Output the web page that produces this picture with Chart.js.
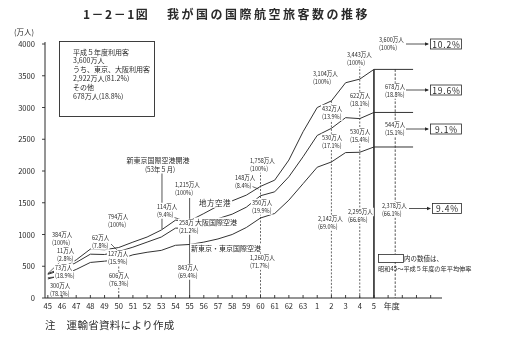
<!DOCTYPE html>
<html>
<head>
<meta charset="utf-8">
<script src="https://cdn.jsdelivr.net/npm/chart.js@4.4.0/dist/chart.umd.min.js"></script>
<style>
  html, body { margin: 0; padding: 0; background: #fff; }
</style>
</head>
<body>
<canvas id="myChart" width="512" height="344"></canvas>
<script>
// 年度 (昭和45〜63, 平成1〜5)
const years = ['45','46','47','48','49','50','51','52','53','54','55','56','57','58','59','60','61','62','63','1','2','3','4','5'];
// 万人
const tokyo = [300,360,450,560,580,606,680,720,750,830,843,880,930,1000,1110,1260,1331,1541,1800,2060,2142,2290,2295,2378];
const osaka = [73,85,110,130,105,127,120,160,210,270,258,290,320,320,320,350,341,368,424,500,530,550,530,544];
const local = [11,25,40,80,75,62,80,80,110,125,114,160,200,210,190,148,184,263,394,440,432,550,622,678];

// labelled years
const keyYears = ['45','50','55','60','2','4','5'];
const keyTotal = [384,794,1215,1758,3104,3443,3600];
const keyTokyo = [300,606,843,1260,2142,2295,2378];
const keyOsaka = [73,127,258,350,530,530,544];
const keyLocal = [11,62,114,148,432,622,678];
const shareTokyo = [78.1,76.3,69.4,71.7,69.0,66.6,66.1];
const shareOsaka = [18.9,15.9,21.2,19.9,17.1,15.4,15.1];
const shareLocal = [2.8,7.8,9.4,8.4,13.9,18.1,18.8];
// 昭和45〜平成5年度の年平均伸率: total, local, osaka, tokyo
const growthRates = ['10.2%','19.6%','9.1%','9.4%'];
const yTicks = [0,500,1000,1500,2000,2500,3000,3500,4000];

const seriesNames = ['新東京・東京国際空港','大阪国際空港','地方空港'];

// layout only
const lineEnd = 25.76;          // lines run on past 5年度
const totalPos = [[52,235],[108,217],[175,185],[250,161],[313,74],[347,55],[379,40]];
const localPos = [[57,251],[92,238],[157,207],[235,178],[322,109],[350,96],[385,87]];
const osakaPos = [[55,268],[108,254],[179,223],[252,203],[322,138],[350,132],[385,125]];
const tokyoPos = [[50,286],[109,276],[178,268],[250,258],[318,219],[348,212],[382,206]];
const boxY = [44,90,129,208.5];

const FONT = '"Noto Sans CJK JP", "Noto Sans", sans-serif';
const INK = '#2a2a2a';

function toPoints(vals) {
  const pts = vals.map((v, i) => ({ x: i, y: v }));
  pts.push({ x: lineEnd, y: vals[vals.length - 1] });
  return pts;
}

function drawText(ctx, s, x, y, o) {
  o = o || {};
  const size = o.size || 7;
  ctx.save();
  ctx.font = (o.weight || 'normal') + ' ' + size + 'px ' + FONT;
  ctx.letterSpacing = (o.spacing || 0) + 'px';
  ctx.textBaseline = 'middle';
  ctx.textAlign = 'left';
  const sx = o.sx || 1;
  const w = ctx.measureText(s).width * sx;
  let x0 = x;
  if (o.align === 'center') x0 = x - w / 2;
  if (o.align === 'right') x0 = x - w;
  if (o.bg) {
    ctx.fillStyle = '#fff';
    ctx.fillRect(x0 - 1, y - size / 2 - 1, w + 2, size + 2);
  }
  ctx.fillStyle = o.color || INK;
  ctx.translate(x0, y);
  ctx.scale(sx, 1);
  ctx.fillText(s, 0, 0);
  ctx.restore();
  return w;
}

function fmt(v) {
  return v.toLocaleString('en-US') + '万人';
}

function dataLabel(ctx, pos, value, share) {
  drawText(ctx, fmt(value), pos[0], pos[1], { size: 6.5, sx: 0.85, bg: true });
  drawText(ctx, '(' + share + '%)', pos[0], pos[1] + 7.5, { size: 6.5, sx: 0.85, bg: true });
}

function line(ctx, x1, y1, x2, y2, w, dash) {
  ctx.save();
  ctx.strokeStyle = INK;
  ctx.lineWidth = w || 0.8;
  ctx.setLineDash(dash || []);
  ctx.beginPath();
  ctx.moveTo(x1, y1);
  ctx.lineTo(x2, y2);
  ctx.stroke();
  ctx.restore();
}

function arrow(ctx, x1, x2, y) {
  line(ctx, x1, y, x2, y, 0.8);
  ctx.save();
  ctx.fillStyle = INK;
  ctx.beginPath();
  ctx.moveTo(x2 + 1, y);
  ctx.lineTo(x2 - 3, y - 1.8);
  ctx.lineTo(x2 - 3, y + 1.8);
  ctx.closePath();
  ctx.fill();
  ctx.restore();
}

const decor = {
  id: 'decor',
  afterDatasetsDraw(chart) {
    const ctx = chart.ctx;
    const xs = chart.scales.x, ys = chart.scales.y;
    const area = chart.chartArea;
    const px = i => xs.getPixelForValue(i);
    const py = v => ys.getPixelForValue(v);
    const idx = y => years.indexOf(y);
    const top = i => tokyo[i] + osaka[i] + local[i];
    const base = area.bottom;

    // vertical guide lines
    line(ctx, px(idx('50')), py(tokyo[idx('50')]), px(idx('50')), base, 0.7, [2, 1.5]);
    line(ctx, px(idx('55')), 198, px(idx('55')), base, 0.8);
    line(ctx, px(8.05), 173, px(8.05), py(1085), 0.8);
    line(ctx, px(idx('60')), 168, px(idx('60')), base, 0.7, [2, 1.5]);
    line(ctx, px(idx('2')), py(top(idx('2'))), px(idx('2')), base, 0.7, [2, 1.5]);
    line(ctx, px(idx('4')), 62, px(idx('4')), base, 0.7, [2, 1.5]);
    line(ctx, px(idx('5')), py(top(idx('5'))), px(idx('5')), base, 1.6);
    line(ctx, px(24.5), py(top(idx('5'))), px(24.5), base, 0.8, [2.5, 1.5]);

    // leaders
    line(ctx, px(0), py(keyTotal[0]), 60, 262, 0.7);
    line(ctx, px(0), py(keyTotal[0]) + 4, 56, 277, 0.7);
    line(ctx, 111, 244, 118, 251, 0.7);
    line(ctx, 246, 184, px(idx('60')) - 2, 189, 0.7);
    line(ctx, 170, 216, px(idx('55')) - 2, 222, 0.7);

    // value labels
    keyYears.forEach((y, k) => {
      dataLabel(ctx, totalPos[k], keyTotal[k], 100);
      dataLabel(ctx, localPos[k], keyLocal[k], shareLocal[k].toFixed(1));
      dataLabel(ctx, osakaPos[k], keyOsaka[k], shareOsaka[k].toFixed(1));
      dataLabel(ctx, tokyoPos[k], keyTokyo[k], shareTokyo[k].toFixed(1));
    });

    // series names
    drawText(ctx, seriesNames[2], 215, 203, { size: 7.5, align: 'center', bg: true, spacing: 0.5 });
    drawText(ctx, seriesNames[1], 216, 222, { size: 7, align: 'center', bg: true });
    drawText(ctx, seriesNames[0], 226, 248, { size: 7, align: 'center', bg: true });

    // Narita opening
    drawText(ctx, '新東京国際空港開港', 158, 160, { size: 7, align: 'center', bg: true });
    drawText(ctx, '(53年５月)', 160, 169, { size: 7, align: 'center', bg: true, sx: 0.9 });

    // growth boxes and arrows
    arrow(ctx, 406, 428, boxY[0]);
    arrow(ctx, 406, 428, boxY[1]);
    arrow(ctx, 406, 428, boxY[2]);
    arrow(ctx, 409, 430, boxY[3]);
    growthRates.forEach((g, k) => {
      const bx = k === 3 ? 432 : 430;
      const bw = k === 3 ? 29 : 31;
      ctx.save();
      ctx.strokeStyle = INK;
      ctx.lineWidth = 0.8;
      ctx.fillStyle = '#fff';
      ctx.fillRect(bx, boxY[k] - 5, bw, 10);
      ctx.strokeRect(bx + 0.5, boxY[k] - 5, bw, 10);
      ctx.restore();
      drawText(ctx, g, bx + bw / 2 + 1, boxY[k] + 0.5, { size: 8.5, align: 'center', spacing: 0.8 });
    });

    // note for boxes
    ctx.save();
    ctx.strokeStyle = INK;
    ctx.lineWidth = 0.8;
    ctx.fillStyle = '#fff';
    ctx.fillRect(378, 254, 25, 8);
    ctx.strokeRect(378.5, 254.5, 25, 8);
    ctx.restore();
    drawText(ctx, '内の数値は、', 404, 258.5, { size: 6.5 });
    drawText(ctx, '昭和45～平成５年度の年平均伸率', 378, 268.5, { size: 6.2 });

    // axes
    line(ctx, area.left, area.top - 2, area.left, base, 1);
    line(ctx, area.left, base, area.right, base, 1);
    yTicks.forEach(v => {
      line(ctx, area.left - 3, py(v), area.left, py(v), 0.9);
      drawText(ctx, String(v), 35, py(v), { size: 8, align: 'right', sx: 0.95 });
    });
    for (let i = 0; i <= 27; i++) {
      line(ctx, px(i), base, px(i), base - 3, 0.9);
    }
    years.forEach((y, i) => {
      drawText(ctx, y, px(i), 306, { size: 8, align: 'center', sx: 0.95 });
    });
    drawText(ctx, '年度', px(24.25), 306, { size: 8, align: 'center' });
    drawText(ctx, '(万人)', 14, 32, { size: 7.5 });

    // info box
    ctx.save();
    ctx.strokeStyle = INK;
    ctx.lineWidth = 0.9;
    ctx.fillStyle = '#fff';
    ctx.fillRect(59, 41, 95, 75);
    ctx.strokeRect(59.5, 41.5, 95, 75);
    ctx.restore();
    const t5 = keyTotal[6], big = keyTokyo[6] + keyOsaka[6], other = keyLocal[6];
    const info = [
      '平成５年度利用客',
      fmt(t5),
      'うち、東京、大阪利用客',
      fmt(big) + '(' + (shareTokyo[6] + shareOsaka[6]).toFixed(1) + '%)',
      'その他',
      fmt(other) + '(' + shareLocal[6].toFixed(1) + '%)'
    ];
    info.forEach((s, k) => drawText(ctx, s, 73, 52 + k * 8.8, { size: 7 }));

    // title and note
    drawText(ctx, '1－2－1図', 83, 14, { size: 12, weight: 'bold', spacing: 1.5 });
    drawText(ctx, '我が国の国際航空旅客数の推移', 167, 14, { size: 12, weight: 'bold', spacing: 2.5 });
    drawText(ctx, '注　運輸省資料により作成', 45, 325, { size: 10.5, spacing: 0.3 });
  }
};

const ctx = document.getElementById('myChart').getContext('2d');
const dsStyle = { borderColor: '#333', borderWidth: 1, pointRadius: 0, tension: 0, fill: false };

new Chart(ctx, {
  type: 'line',
  data: {
    datasets: [
      Object.assign({ label: seriesNames[0], data: toPoints(tokyo) }, dsStyle),
      Object.assign({ label: seriesNames[1], data: toPoints(osaka) }, dsStyle),
      Object.assign({ label: seriesNames[2], data: toPoints(local) }, dsStyle)
    ]
  },
  options: {
    responsive: false,
    animation: false,
    layout: { padding: { left: 45, top: 44, right: 70, bottom: 46 } },
    plugins: { legend: { display: false }, tooltip: { enabled: false } },
    scales: {
      x: { type: 'linear', min: -0.2, max: 27.8, display: false },
      y: { stacked: true, min: 0, max: 4000, display: false }
    }
  },
  plugins: [decor]
});
</script>
</body>
</html>
